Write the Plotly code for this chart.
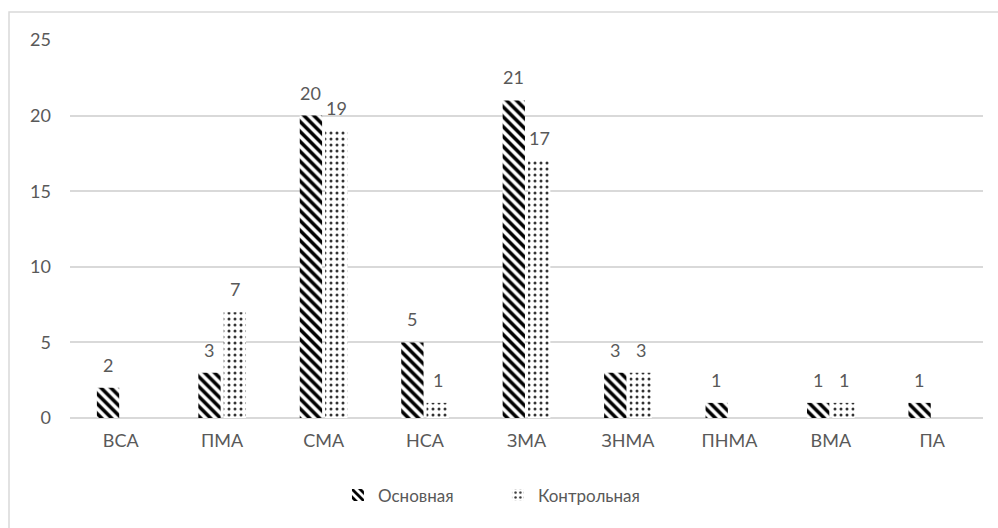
import plotly.graph_objects as go

categories = ["ВСА", "ПМА", "СМА", "НСА", "ЗМА", "ЗНМА", "ПНМА", "ВМА", "ПА"]
main_vals = [2, 3, 20, 5, 21, 3, 1, 1, 1]
control_vals = [None, 7, 19, 1, 17, 3, None, 1, None]
y_ticks = [0, 5, 10, 15, 20, 25]

FONT = "Lato"
GRAY = "#595959"

fig = go.Figure()
fig.add_trace(go.Bar(
    x=categories, y=main_vals, name="Основная",
    marker=dict(color="white", line=dict(width=0),
                pattern=dict(shape="\\", fgcolor="black", bgcolor="white", fgopacity=1,
                             size=7, solidity=0.5)),
))
fig.add_trace(go.Bar(
    x=categories, y=control_vals, name="Контрольная",
    marker=dict(color="white", line=dict(width=0),
                pattern=dict(shape=".", fgcolor="#333333", bgcolor="white", fgopacity=1,
                             size=6, solidity=0.2)),
))

annotations = []
for vals, shift in ((main_vals, -13), (control_vals, 13)):
    for c, v in zip(categories, vals):
        if v is None:
            continue
        annotations.append(dict(x=c, y=v, xref="x", yref="y", text=str(v), showarrow=False,
                                xshift=shift, yshift=10, yanchor="bottom",
                                font=dict(size=18, color=GRAY, family=FONT)))

fig.update_layout(
    width=998, height=528,
    margin=dict(l=70, r=15, t=40, b=110),
    paper_bgcolor="white", plot_bgcolor="white",
    font=dict(family=FONT, color=GRAY, size=18),
    barmode="group", bargap=0.5, bargroupgap=0.12,
    showlegend=True,
    legend=dict(orientation="h", x=0.2935, xanchor="left", y=-0.205, yanchor="middle",
                font=dict(size=17, color=GRAY), entrywidth=115, entrywidthmode="pixels",
                itemwidth=30),
    xaxis=dict(showgrid=False, showline=False, ticks="", tickfont=dict(size=18, color=GRAY),
               ticklabelstandoff=10),
    yaxis=dict(range=[0, 25], tickvals=y_ticks, showgrid=True, gridcolor="#d9d9d9", gridwidth=1.5,
               zeroline=True, zerolinecolor="#d9d9d9", zerolinewidth=1.5,
               showline=False, ticks="", tickfont=dict(size=18, color=GRAY), ticklabelstandoff=18),
    annotations=annotations,
    shapes=[dict(type="rect", xref="paper", yref="paper", x0=-0.0668, x1=1.2, y0=-0.5, y1=1.074,
                 line=dict(color="#d9d9d9", width=1.5), fillcolor="rgba(0,0,0,0)", layer="below")],
)

fig.write_html("out.html")
